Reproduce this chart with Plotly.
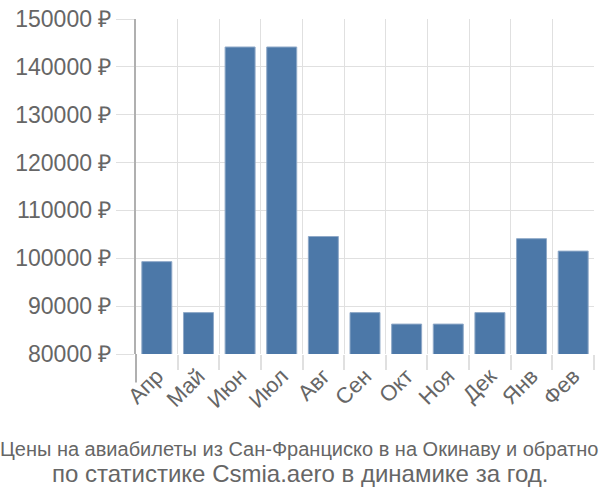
import plotly.graph_objects as go

months = ["Апр", "Май", "Июн", "Июл", "Авг", "Сен", "Окт", "Ноя", "Дек", "Янв", "Фев"]
prices = [99300, 88650, 144150, 144150, 104550, 88650, 86250, 86250, 88650, 104100, 101500]

title_line1 = "Цены на авиабилеты из Сан-Франциско в на Окинаву и обратно"
title_line2 = "по статистике Csmia.aero в динамике за год."

grid = "#e0e0e0"
txt = "#666666"

fig = go.Figure(go.Bar(
    x=months, y=prices,
    marker=dict(color="#4c78a8", line=dict(color="#8fa9c8", width=1)),
    width=0.72,
))

fig.update_layout(
    width=600, height=500,
    margin=dict(l=136, r=6, t=14, b=146),
    paper_bgcolor="white", plot_bgcolor="white",
    font=dict(family="Liberation Sans, Arial, sans-serif", color=txt),
    showlegend=False,
    xaxis=dict(
        type="category", range=[-0.5, len(months) - 0.5],
        tickson="boundaries", showgrid=True, gridcolor=grid, gridwidth=1,
        ticks="outside", ticklen=15, tickcolor=grid, tickwidth=2,
        tickangle=-45, tickfont=dict(size=22, color=txt), ticklabelstandoff=4,
        showline=False, zeroline=False,
    ),
    yaxis=dict(
        range=[80000, 150000], dtick=10000, tick0=80000,
        tickformat="d", ticksuffix=" ₽",
        showgrid=True, gridcolor=grid, gridwidth=1,
        ticks="outside", ticklen=18, tickcolor=grid, tickwidth=1,
        tickfont=dict(size=23, color=txt),
        showline=True, linecolor="#b0b0b0", linewidth=2,
        zeroline=False,
    ),
    shapes=[dict(type="line", xref="paper", yref="paper", x0=0, x1=0, y0=-0.085, y1=0,
                 line=dict(color="#b0b0b0", width=2))],
    annotations=[
        dict(text=title_line1, xref="paper", yref="paper", x=0.5, y=0, yshift=-82,
             xanchor="center", yanchor="top", showarrow=False, xshift=-66,
             font=dict(family="Liberation Sans, sans-serif", size=20, color=txt)),
        dict(text=title_line2, xref="paper", yref="paper", x=0.5, y=0, yshift=-104,
             xanchor="center", yanchor="top", showarrow=False, xshift=-65,
             font=dict(family="Liberation Sans, sans-serif", size=24, color=txt)),
    ],
)

fig.write_html("out.html")
